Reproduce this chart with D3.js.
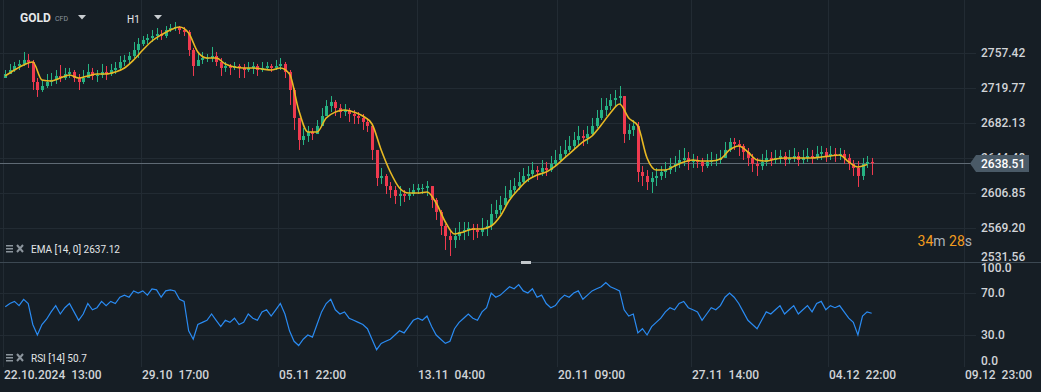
<!DOCTYPE html>
<html>
<head>
<meta charset="utf-8">
<script src="https://cdn.jsdelivr.net/npm/d3@7"></script>
<style>
  html, body { margin: 0; padding: 0; background: #161e25; overflow: hidden; }
  svg text { font-family: Roboto, "Noto Sans", sans-serif; }
</style>
</head>
<body>
<div id="chart-widget"></div>
<script>
// GOLD CFD, H1 chart, candles grouped in 4 hour steps (hour index from 22.10.2024 13:00)
var candleHours = 4;
var firstOpen = 2730.2;

var closes = [
  2734.5,2738.8,2743.1,2745.3,2749.6,2747.4,2725.9,2717.3,2721.6,2725.9,
  2728.1,2732.4,2730.2,2734.5,2736.7,2730.2,2725.9,2730.2,2736.7,2732.4,
  2733.4,2736.7,2734.5,2738.8,2741.0,2747.4,2749.6,2753.9,2760.3,2766.8,
  2771.1,2773.2,2775.4,2777.5,2775.4,2781.8,2784.0,2785.1,2781.8,2779.7,
  2760.3,2743.1,2749.6,2751.7,2751.7,2753.9,2747.4,2741.0,2743.1,2741.0,
  2743.1,2741.0,2738.8,2741.0,2743.1,2738.8,2741.0,2743.1,2741.0,2743.1,
  2745.3,2736.7,2717.3,2687.2,2663.5,2667.8,2672.1,2670.0,2678.6,2689.3,
  2700.1,2704.4,2697.9,2693.6,2695.8,2691.5,2689.3,2687.2,2682.9,2678.6,
  2652.8,2622.6,2624.8,2614.0,2609.7,2603.3,2605.4,2603.3,2605.4,2609.7,
  2611.9,2611.9,2614.0,2599.0,2586.1,2571.0,2560.2,2555.9,2560.2,2564.6,
  2566.7,2568.9,2566.7,2564.6,2568.9,2571.0,2583.9,2588.2,2593.6,2601.1,
  2609.7,2614.0,2618.3,2624.8,2626.9,2631.2,2629.1,2633.4,2631.2,2637.7,
  2642.0,2648.5,2652.8,2657.1,2663.5,2667.8,2665.7,2670.0,2678.6,2687.2,
  2695.8,2700.1,2706.5,2708.7,2710.8,2670.0,2674.3,2678.6,2629.1,2624.8,
  2618.3,2622.6,2624.8,2629.1,2631.2,2635.5,2637.7,2642.0,2644.2,2639.9,
  2642.0,2639.9,2635.5,2639.9,2642.0,2642.0,2644.2,2652.8,2661.4,2659.2,
  2657.1,2650.6,2644.2,2637.7,2635.5,2639.9,2644.2,2642.0,2644.2,2646.3,
  2642.0,2644.2,2646.3,2642.0,2644.2,2646.3,2644.2,2648.5,2650.6,2646.3,
  2648.5,2646.3,2648.5,2644.2,2637.7,2633.4,2624.8,2637.7,2639.9,2638.51
];

var highs = [
  2738.8,2745.3,2747.4,2749.6,2758.2,2756.0,2749.6,2730.2,2728.1,2734.5,
  2735.6,2738.8,2744.2,2741.0,2741.0,2738.8,2734.5,2738.8,2745.3,2741.0,
  2738.8,2745.3,2743.1,2745.3,2747.4,2753.9,2755.0,2758.2,2768.9,2773.2,
  2775.4,2777.5,2781.8,2784.0,2781.8,2786.1,2788.3,2790.4,2786.1,2785.1,
  2781.8,2762.5,2758.2,2758.2,2756.0,2763.6,2758.2,2751.7,2747.4,2745.3,
  2747.4,2745.3,2745.3,2747.4,2747.4,2745.3,2747.4,2747.4,2745.3,2749.6,
  2751.7,2747.4,2738.8,2719.5,2687.2,2676.4,2678.6,2676.4,2685.0,2697.9,
  2706.5,2710.8,2706.5,2702.2,2702.2,2697.9,2695.8,2693.6,2691.5,2687.2,
  2680.7,2652.8,2633.4,2626.9,2618.3,2614.0,2614.0,2609.7,2611.9,2616.2,
  2616.2,2616.2,2619.4,2614.0,2601.1,2588.2,2573.2,2566.7,2568.9,2575.3,
  2575.3,2575.3,2573.2,2573.2,2579.6,2577.5,2594.7,2599.0,2603.3,2614.0,
  2620.5,2622.6,2629.1,2633.4,2635.5,2639.9,2635.5,2642.0,2639.9,2646.3,
  2652.8,2657.1,2663.5,2667.8,2672.1,2678.6,2674.3,2678.6,2687.2,2695.8,
  2708.7,2708.7,2713.0,2717.3,2721.6,2710.8,2680.7,2685.0,2682.9,2635.5,
  2631.2,2629.1,2633.4,2635.5,2639.9,2644.2,2646.3,2652.8,2654.9,2650.6,
  2648.5,2646.3,2644.2,2648.5,2650.6,2648.5,2652.8,2661.4,2665.7,2665.7,
  2663.5,2659.2,2654.9,2648.5,2644.2,2648.5,2652.8,2650.6,2652.8,2652.8,
  2650.6,2652.8,2654.9,2650.6,2652.8,2654.9,2652.8,2657.1,2657.1,2654.9,
  2657.1,2654.9,2654.9,2652.8,2648.5,2642.0,2640.9,2644.2,2646.3,2644.2
];

var lows = [
  2730.2,2734.5,2736.7,2738.8,2743.1,2741.0,2717.3,2709.8,2715.2,2719.5,
  2721.6,2723.8,2725.9,2728.1,2730.2,2725.9,2717.3,2723.8,2730.2,2728.1,
  2725.9,2730.2,2728.1,2732.4,2734.5,2738.8,2743.1,2745.3,2751.7,2751.7,
  2764.6,2766.8,2768.9,2771.1,2771.1,2773.2,2779.7,2780.8,2777.5,2775.4,
  2753.9,2732.4,2743.1,2745.3,2747.4,2747.4,2743.1,2732.4,2736.7,2733.4,
  2738.8,2730.2,2730.2,2736.7,2734.5,2732.4,2736.7,2738.8,2736.7,2738.8,
  2738.8,2730.2,2701.2,2674.3,2652.8,2658.1,2661.4,2663.5,2670.0,2680.7,
  2689.3,2693.6,2689.3,2687.2,2689.3,2682.9,2680.7,2680.7,2674.3,2672.1,
  2642.0,2614.0,2616.2,2605.4,2601.1,2594.7,2592.5,2596.8,2599.0,2603.3,
  2605.4,2605.4,2603.3,2590.4,2577.5,2561.3,2545.2,2538.7,2547.3,2555.9,
  2555.9,2560.2,2555.9,2558.1,2560.2,2560.2,2566.7,2579.6,2583.9,2592.5,
  2599.0,2605.4,2609.7,2616.2,2618.3,2622.6,2620.5,2624.8,2624.8,2629.1,
  2635.5,2639.9,2644.2,2650.6,2652.8,2657.1,2657.1,2659.2,2667.8,2676.4,
  2685.0,2689.3,2695.8,2700.1,2702.2,2660.3,2663.5,2667.8,2618.3,2614.0,
  2609.7,2606.5,2614.0,2620.5,2622.6,2626.9,2629.1,2633.4,2635.5,2631.2,
  2633.4,2633.4,2629.1,2633.4,2635.5,2635.5,2637.7,2644.2,2650.6,2652.8,
  2646.3,2642.0,2635.5,2629.1,2624.8,2631.2,2635.5,2635.5,2637.7,2637.7,
  2635.5,2637.7,2639.9,2635.5,2637.7,2639.9,2637.7,2642.0,2642.0,2639.9,
  2642.0,2639.9,2642.0,2637.7,2631.2,2624.8,2613.0,2620.5,2633.4,2625.9
];

// EMA(14) read every 8 hours
var emaHours = 8;
var emaValues = [
  2732.4,2738.8,2744.2,2747.4,2728.1,2727.0,2730.2,2733.4,2730.2,2732.4,
  2734.5,2734.5,2736.7,2741.0,2749.6,2760.3,2770.0,2776.5,2781.8,2785.1,
  2778.6,2758.2,2751.7,2751.7,2745.3,2742.0,2741.0,2741.0,2739.9,2738.8,
  2741.0,2734.5,2695.8,2672.1,2672.1,2687.2,2693.6,2695.8,2693.6,2689.3,
  2680.7,2652.8,2629.1,2611.9,2606.5,2606.5,2607.6,2595.7,2575.3,2562.4,
  2564.6,2567.8,2567.8,2571.0,2581.8,2599.0,2610.8,2620.5,2625.9,2629.1,
  2635.5,2644.2,2652.8,2661.4,2667.8,2679.6,2692.6,2702.2,2687.2,2678.6,
  2644.2,2631.2,2631.2,2635.5,2639.9,2642.0,2640.9,2640.9,2643.1,2652.8,
  2657.1,2650.6,2642.0,2640.9,2643.1,2644.2,2644.2,2644.2,2644.2,2645.2,
  2646.3,2647.4,2639.9,2634.5,2637.12
];

// RSI(14), one value per candle
var rsiValues = [
  57,60,62,58,64,60,40,30,40,45,
  52,58,50,56,60,52,44,50,60,54,
  56,62,58,62,60,66,68,66,72,70,
  72,68,74,73,66,72,73,72,64,62,
  34,26,40,42,44,50,44,38,44,42,
  46,40,42,50,46,44,52,54,48,54,
  60,50,34,24,20,26,30,28,40,52,
  60,64,54,50,52,46,44,42,40,36,
  26,16,22,24,26,30,34,32,38,44,
  46,44,48,38,30,26,22,24,36,42,
  46,50,46,44,52,56,70,66,68,72,
  76,74,78,72,70,74,66,68,60,56,
  58,64,68,66,70,72,64,68,72,74,
  76,80,76,74,72,54,48,50,32,36,
  30,38,42,46,52,56,54,60,62,56,
  54,52,44,50,56,54,58,66,70,66,
  60,52,44,40,36,44,52,50,54,58,
  50,54,58,50,54,58,52,60,62,54,
  58,56,58,52,46,42,30,48,52,50.7
];

var priceTicks = [2531.56, 2569.20, 2606.85, 2644.48, 2682.13, 2719.77, 2757.42];
var rsiTicks = [0, 30, 70, 100];
var timeTickHours = [0, 120, 240, 361, 483, 600, 720, 839];
var timeTickLabels = ['22.10.2024  13:00', '29.10  17:00', '05.11  22:00', '13.11  04:00',
                      '20.11  09:00', '27.11  14:00', '04.12  22:00', '09.12  23:00'];
var lastPrice = 2638.51;
var emaLabel = 'EMA [14, 0] 2637.12';
var rsiLabel = 'RSI [14] 50.7';

class CandleChart {
  constructor(widgetID) {
    this.width = 1041;
    this.height = 392;
    this.plotRight = 976;
    this.mainBottom = 262;
    this.rsiBottom = 367;

    this.bg = '#161e25';
    this.grid = '#222b33';
    this.text = '#d1d4d8';
    this.up = '#26b383';
    this.down = '#ef3a4f';

    this.svg = d3.select('#' + widgetID)
      .append('svg')
      .attr('width', this.width)
      .attr('height', this.height);

    this.x = d3.scaleLinear().domain([0, 900]).range([3, 1034.4]);
    this.y = d3.scaleLinear().domain([2531.56, 2757.42]).range([262.66, 52.7]);
    this.yRsi = d3.scaleLinear().domain([0, 100]).range([366.5, 261.5]);

    this.candles = closes.map((c, i) => {
      var o = i == 0 ? firstOpen : closes[i - 1];
      return {
        h: i * candleHours + candleHours / 2,
        open: o,
        close: c,
        high: Math.max(highs[i], o, c),
        low: Math.min(lows[i], o, c)
      };
    });

    this.drawGrid();
    this.drawCandles();
    this.drawRsi();
    this.drawAxes();
    this.drawLabels();
  }

  drawGrid() {
    var svg = this.svg;
    svg.append('rect').attr('width', this.width).attr('height', this.height).attr('fill', this.bg);

    svg.append('g').selectAll('line')
      .data(priceTicks.slice(1))
      .enter().append('line')
      .attr('x1', 0).attr('x2', this.plotRight)
      .attr('y1', d => Math.round(this.y(d)) + 0.5)
      .attr('y2', d => Math.round(this.y(d)) + 0.5)
      .attr('stroke', this.grid);

    svg.append('g').selectAll('line')
      .data([30, 70])
      .enter().append('line')
      .attr('x1', 0).attr('x2', this.plotRight)
      .attr('y1', d => Math.round(this.yRsi(d)) + 0.5)
      .attr('y2', d => Math.round(this.yRsi(d)) + 0.5)
      .attr('stroke', this.grid);

    svg.append('g').selectAll('line')
      .data(timeTickHours)
      .enter().append('line')
      .attr('x1', d => Math.round(this.x(d)) + 0.5)
      .attr('x2', d => Math.round(this.x(d)) + 0.5)
      .attr('y1', 0).attr('y2', this.rsiBottom)
      .attr('stroke', this.grid);

    // pane separator with its handle
    svg.append('line')
      .attr('x1', 0).attr('x2', this.width)
      .attr('y1', this.mainBottom + 0.5).attr('y2', this.mainBottom + 0.5)
      .attr('stroke', '#3c4852');
    svg.append('rect')
      .attr('x', 521).attr('y', this.mainBottom - 1)
      .attr('width', 10).attr('height', 3)
      .attr('fill', '#c3c8cc');

    // last price line
    var yl = Math.round(this.y(lastPrice)) + 0.5;
    svg.append('line')
      .attr('x1', 0).attr('x2', this.plotRight)
      .attr('y1', yl).attr('y2', yl)
      .attr('stroke', '#5f6a74');
  }

  drawCandles() {
    var g = this.svg.append('g');
    var x = this.x, y = this.y;
    var col = d => d.close >= d.open ? this.up : this.down;

    g.selectAll('.wick')
      .data(this.candles)
      .enter().append('line')
      .attr('class', 'wick')
      .attr('x1', d => Math.round(x(d.h)) + 0.5)
      .attr('x2', d => Math.round(x(d.h)) + 0.5)
      .attr('y1', d => y(d.high))
      .attr('y2', d => y(d.low))
      .attr('stroke', col);

    g.selectAll('.body')
      .data(this.candles)
      .enter().append('rect')
      .attr('class', 'body')
      .attr('x', d => Math.round(x(d.h)) - 1)
      .attr('width', 3)
      .attr('y', d => Math.min(y(d.open), y(d.close)))
      .attr('height', d => Math.max(1, Math.abs(y(d.open) - y(d.close))))
      .attr('fill', col);

    var emaLine = d3.line()
      .x((d, i) => x(i * emaHours + 2))
      .y(d => y(d))
      .curve(d3.curveMonotoneX);

    this.svg.append('path')
      .datum(emaValues)
      .attr('d', emaLine)
      .attr('fill', 'none')
      .attr('stroke', '#e8b923')
      .attr('stroke-width', 1.6);
  }

  drawRsi() {
    var line = d3.line()
      .x((d, i) => this.x(i * candleHours + candleHours / 2))
      .y(d => this.yRsi(d));

    this.svg.append('path')
      .datum(rsiValues)
      .attr('d', line)
      .attr('fill', 'none')
      .attr('stroke', '#2a8bf2')
      .attr('stroke-width', 1.2);
  }

  drawAxes() {
    var svg = this.svg;
    var font = (sel, size) => sel.attr('fill', this.text).attr('font-size', size).attr('font-weight', 500);

    // price axis
    svg.append('g').selectAll('text')
      .data(priceTicks)
      .enter().append('text')
      .attr('x', 981)
      .attr('y', d => Math.min(this.y(d), this.mainBottom - 5))
      .attr('dy', '0.35em')
      .text(d => d.toFixed(2))
      .call(font, 12);

    // rsi axis
    svg.append('g').selectAll('text')
      .data(rsiTicks)
      .enter().append('text')
      .attr('x', 981)
      .attr('y', d => Math.max(Math.min(this.yRsi(d), 361), 268))
      .attr('dy', '0.35em')
      .text(d => d.toFixed(1))
      .call(font, 12);

    // time axis
    svg.append('g').selectAll('text')
      .data(timeTickHours)
      .enter().append('text')
      .attr('x', d => Math.round(this.x(d)) + 1)
      .attr('y', 375)
      .attr('dy', '0.35em')
      .style('white-space', 'pre')
      .text((d, i) => timeTickLabels[i])
      .call(font, 12);

    // last price tag
    var yl = Math.round(this.y(lastPrice));
    svg.append('path')
      .attr('d', 'M970,' + (yl + 0.5) + 'L976,' + (yl - 8) + 'H1029V' + (yl + 9) + 'H976Z')
      .attr('fill', '#4a5a67');
    svg.append('text')
      .attr('x', 981).attr('y', yl + 1)
      .attr('dy', '0.35em')
      .text(lastPrice.toFixed(2))
      .attr('fill', '#ffffff').attr('font-size', 12).attr('font-weight', 500);
  }

  drawLabels() {
    var svg = this.svg;

    // indicator legends
    var legends = [{y: 249, label: emaLabel}, {y: 358, label: rsiLabel}];
    legends.forEach(l => {
      var g = svg.append('g').attr('transform', 'translate(0,' + l.y + ')');
      g.append('rect').attr('x', 6).attr('y', -4).attr('width', 7).attr('height', 1.5).attr('fill', '#8c959d');
      g.append('rect').attr('x', 6).attr('y', -1).attr('width', 7).attr('height', 1.5).attr('fill', '#8c959d');
      g.append('rect').attr('x', 6).attr('y', 2).attr('width', 7).attr('height', 1.5).attr('fill', '#8c959d');
      g.append('path').attr('d', 'M17,-4L23,3M23,-4L17,3').attr('stroke', '#8c959d').attr('stroke-width', 2);
      g.append('text').attr('x', 31).attr('y', 0).attr('dy', '0.35em')
        .text(l.label).attr('fill', '#e3e6e8').attr('font-size', 10);
    });

    // header
    svg.append('text').attr('x', 20).attr('y', 18).attr('dy', '0.35em')
      .text('GOLD').attr('fill', '#e6e8ea').attr('font-size', 12).attr('font-weight', 700);
    svg.append('text').attr('x', 55).attr('y', 19).attr('dy', '0.35em')
      .text('CFD').attr('fill', '#8c959d').attr('font-size', 7);
    svg.append('text').attr('x', 127).attr('y', 19).attr('dy', '0.35em')
      .text('H1').attr('fill', '#e6e8ea').attr('font-size', 10);
    [78, 154].forEach(px => {
      svg.append('path').attr('d', 'M' + px + ',15h8l-4,4.5z').attr('fill', '#c9cdd1');
    });

    // countdown to candle close
    var t = svg.append('text').attr('x', 972).attr('y', 241).attr('dy', '0.35em')
      .attr('text-anchor', 'end').attr('font-size', 14);
    [['34', '#f39c1e'], ['m ', '#aab1b7'], ['28', '#f39c1e'], ['s', '#aab1b7']].forEach(p => {
      t.append('tspan').text(p[0]).attr('fill', p[1]).style('white-space', 'pre');
    });
  }
}

new CandleChart('chart-widget');
</script>
</body>
</html>
